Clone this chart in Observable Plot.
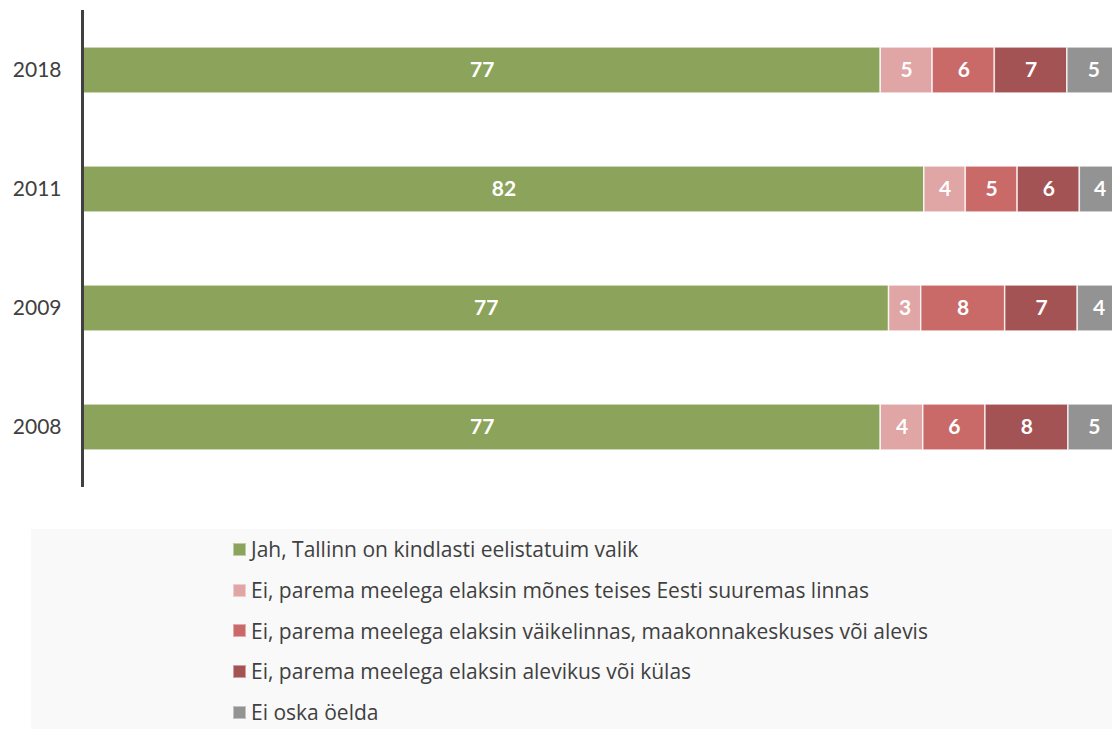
<!DOCTYPE html>
<html>
<head>
<meta charset="utf-8">
<script src="https://cdn.jsdelivr.net/npm/d3@7"></script>
<script src="https://cdn.jsdelivr.net/npm/@observablehq/plot@0.6"></script>
<style>
  html, body { margin: 0; padding: 0; background: white; overflow: hidden; }
  body { width: 1112px; height: 729px; font-family: Lato, "Open Sans", sans-serif; }
  #legend { margin-left: 31px; width: 1081px; height: 200px; background: #f9f9f9; box-sizing: border-box; padding-left: 202px; padding-top: 0px; }
  .item { display: flex; align-items: center; height: 40.7px; font-family: "Open Sans", sans-serif; font-size: 21px; color: #404040; }
  .sw { width: 13px; height: 13px; margin-right: 5px; box-sizing: border-box; border: 1px solid rgba(255,255,255,0.45); flex: none; }
</style>
</head>
<body>
<div id="chart"></div>
<div id="legend"></div>
<script>
const years = ["2018", "2011", "2009", "2008"];
const categories = [
  "Jah, Tallinn on kindlasti eelistatuim valik",
  "Ei, parema meelega elaksin mõnes teises Eesti suuremas linnas",
  "Ei, parema meelega elaksin väikelinnas, maakonnakeskuses või alevis",
  "Ei, parema meelega elaksin alevikus või külas",
  "Ei oska öelda"
];
const colors = ["#8ba35a", "#e0a5a5", "#c96a69", "#a45354", "#939393"];
// bar lengths (%) per year, in category order
const values = {
  "2018": [76.9, 5.0, 6.0, 7.0, 5.1],
  "2011": [81.1, 4.0, 5.0, 6.0, 3.9],
  "2009": [77.7, 3.1, 8.1, 7.0, 4.1],
  "2008": [76.9, 4.1, 6.0, 8.0, 5.0]
};
// data labels as printed on the bars
const labels = {
  "2018": [77, 5, 6, 7, 5],
  "2011": [82, 4, 5, 6, 4],
  "2009": [77, 3, 8, 7, 4],
  "2008": [77, 4, 6, 8, 5]
};

const data = [];
for (const y of years) {
  categories.forEach((c, i) => {
    data.push({year: y, cat: c, value: values[y][i], label: String(labels[y][i])});
  });
}

const chart = Plot.plot({
  width: 1112,
  height: 500,
  marginLeft: 83,
  marginRight: 0,
  marginTop: 10,
  marginBottom: 13,
  style: {fontFamily: "Lato, 'Open Sans', sans-serif", fontSize: "21px", color: "#404040", background: "white"},
  x: {domain: [0, 99.25], axis: null},
  y: {domain: years, paddingInner: 0.61, paddingOuter: 0.305, label: null},
  color: {domain: categories, range: colors},
  marks: [
    Plot.barX(data, Plot.stackX({x: "value", y: "year", fill: "cat", stroke: "white", strokeOpacity: 0.75, strokeWidth: 1.5, clip: true})),
    Plot.text(data, Plot.stackX({x: "value", y: "year", text: "label", fill: "white", fontWeight: "bold", fontSize: 21})),
    Plot.axisY({tickSize: 0, tickPadding: 22, fontSize: 21, fill: "#404040"}),
    Plot.ruleX([0], {stroke: "#404040", strokeWidth: 3, dx: -1})
  ]
});
document.getElementById("chart").appendChild(chart);

const legend = document.getElementById("legend");
legend.style.marginTop = "29px";
categories.forEach((c, i) => {
  const it = document.createElement("div");
  it.className = "item";
  const sw = document.createElement("span");
  sw.className = "sw";
  sw.style.background = colors[i];
  const t = document.createElement("span");
  t.textContent = c;
  it.appendChild(sw);
  it.appendChild(t);
  legend.appendChild(it);
});
</script>
</body>
</html>
